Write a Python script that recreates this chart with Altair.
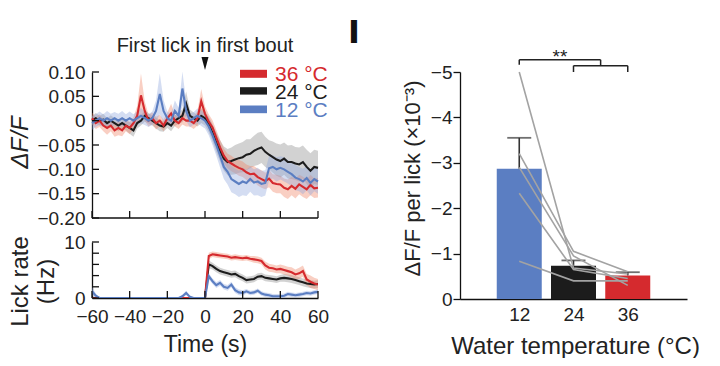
import altair as alt
import pandas as pd

# ---------------- data ----------------
TIME = list(range(-60, 61, 2))

DFF_36 = [0.005, -0.005, 0.0, -0.01, -0.015, -0.01, -0.02, -0.015, -0.02, -0.01,
          -0.015, -0.005, 0.01, 0.052, 0.02, 0.0, 0.005, -0.005, 0.0, -0.01,
          0.005, 0.015, 0.0, -0.005, 0.005, 0.0, 0.0, -0.005, 0.005, 0.04,
          0.014,
          -0.002, -0.014, -0.035, -0.055, -0.072, -0.083, -0.088, -0.093, -0.097, -0.1,
          -0.106, -0.11, -0.109, -0.116, -0.12, -0.124, -0.119, -0.128, -0.13, -0.131,
          -0.138, -0.141, -0.134, -0.14, -0.131, -0.136, -0.141, -0.132, -0.139, -0.138]
DFF_24 = [0.0, 0.005, 0.0, 0.002, -0.005, 0.0, -0.005, -0.01, -0.005, -0.01,
          -0.015, -0.02, -0.005, 0.0, 0.01, 0.005, 0.0, -0.005, -0.01, -0.012,
          -0.005, -0.01, 0.0, 0.005, 0.01, 0.035, 0.01, 0.005, 0.0, 0.01,
          0.005,
          -0.008, -0.025, -0.045, -0.062, -0.078, -0.085, -0.083, -0.08, -0.077, -0.075,
          -0.07, -0.068, -0.062, -0.058, -0.055, -0.064, -0.07, -0.075, -0.08, -0.083,
          -0.078, -0.085, -0.085, -0.088, -0.09, -0.085, -0.095, -0.103, -0.095, -0.097]
DFF_12 = [-0.005, 0.0, 0.005, 0.0, 0.005, 0.0, 0.005, 0.0, 0.005, 0.0,
          0.005, 0.0, 0.005, 0.01, 0.005, 0.0, 0.005, 0.02, 0.055, 0.02,
          0.005, 0.0, 0.02, 0.01, 0.066, 0.02, 0.0, 0.005, 0.01, 0.005,
          0.0,
          -0.012, -0.03, -0.05, -0.072, -0.095, -0.105, -0.12, -0.125, -0.13, -0.125,
          -0.128, -0.12, -0.127, -0.125, -0.13, -0.128, -0.098, -0.095, -0.1, -0.097,
          -0.1, -0.105, -0.11, -0.117, -0.12, -0.125, -0.118, -0.128, -0.12, -0.125]

SEM_36 = [0.012, 0.012, 0.013, 0.012, 0.014, 0.012, 0.013, 0.015, 0.012, 0.012,
          0.013, 0.012, 0.02, 0.045, 0.02, 0.012, 0.012, 0.013, 0.012, 0.012,
          0.012, 0.02, 0.012, 0.012, 0.013, 0.012, 0.012, 0.012, 0.015, 0.025,
          0.015,
          0.015, 0.015, 0.016, 0.016, 0.015, 0.015, 0.016, 0.015, 0.016, 0.016,
          0.016, 0.017, 0.016, 0.017, 0.018, 0.017, 0.018, 0.018, 0.019, 0.018,
          0.019, 0.02, 0.019, 0.02, 0.02, 0.021, 0.02, 0.021, 0.02, 0.02]
SEM_24 = [0.01, 0.011, 0.01, 0.012, 0.01, 0.011, 0.01, 0.012, 0.011, 0.01,
          0.012, 0.013, 0.011, 0.01, 0.012, 0.011, 0.01, 0.011, 0.012, 0.011,
          0.01, 0.012, 0.011, 0.012, 0.013, 0.025, 0.013, 0.012, 0.012, 0.015,
          0.015,
          0.016, 0.018, 0.02, 0.022, 0.025, 0.027, 0.028, 0.03, 0.03, 0.031,
          0.032, 0.03, 0.031, 0.033, 0.032, 0.031, 0.03, 0.032, 0.033, 0.034,
          0.033, 0.034, 0.035, 0.034, 0.035, 0.034, 0.035, 0.036, 0.035, 0.035]
SEM_12 = [0.014, 0.013, 0.014, 0.013, 0.015, 0.014, 0.013, 0.014, 0.015, 0.013,
          0.014, 0.013, 0.014, 0.016, 0.014, 0.013, 0.014, 0.022, 0.042, 0.022,
          0.014, 0.013, 0.022, 0.016, 0.035, 0.02, 0.014, 0.013, 0.015, 0.016,
          0.016,
          0.018, 0.02, 0.022, 0.024, 0.025, 0.026, 0.027, 0.026, 0.027, 0.028,
          0.027, 0.026, 0.027, 0.028, 0.027, 0.026, 0.025, 0.024, 0.025, 0.024,
          0.025, 0.024, 0.025, 0.026, 0.025, 0.026, 0.025, 0.026, 0.025, 0.025]

LICK_36 = [0] * 31 + [7.5, 7.8, 7.7, 7.6, 7.5, 7.4, 7.2, 7.3, 7.2, 7.1,
                      7.2, 7.0, 6.9, 6.8, 6.6, 5.8, 5.4, 5.3, 5.1, 5.2,
                      5.0, 4.8, 4.6, 4.2, 4.4, 4.8, 3.3, 2.9, 2.6, 2.4]
LICK_24 = [0] * 31 + [6.0, 5.7, 5.2, 4.8, 4.6, 4.4, 4.2, 4.3, 3.9, 3.6,
                      3.2, 3.3, 3.4, 3.8, 3.9, 3.6, 3.5, 3.4, 3.3, 3.5,
                      3.6, 3.5, 3.4, 3.2, 3.0, 2.8, 2.6, 2.5, 2.4, 2.5]
LICK_12 = [1.2, 0.4, 0, 0, 0, 0, 0, 0, 0, 0,
           0, 0, 0, 0, 0, 0, 0, 0, 0, 0,
           0, 0, 0, 0, 0.3, 0.9, 0.2, 0, 0, 0,
           0,
           3.9, 3.0, 2.3, 2.7, 2.0, 1.8, 2.4, 1.4, 1.0, 0.9,
           1.2, 0.9, 1.0, 1.3, 0.8, 0.6, 0.5, 0.3, 0.3, 0.3,
           0.4, 0.7, 0.6, 0.5, 0.6, 0.7, 0.9, 0.8, 1.0, 1.1]
LSEM_36 = [0] * 31 + [0.6, 0.5, 0.5, 0.5, 0.5, 0.5, 0.5, 0.5, 0.5, 0.5,
                      0.5, 0.5, 0.6, 0.6, 0.6, 0.7, 0.7, 0.7, 0.7, 0.8,
                      0.8, 0.8, 0.9, 0.9, 1.0, 1.0, 1.0, 1.1, 1.0, 1.0]
LSEM_24 = [0] * 31 + [0.7, 0.6, 0.6, 0.6, 0.6, 0.6, 0.6, 0.6, 0.6, 0.6,
                      0.6, 0.6, 0.6, 0.6, 0.6, 0.6, 0.6, 0.6, 0.6, 0.6,
                      0.7, 0.7, 0.7, 0.7, 0.7, 0.7, 0.7, 0.7, 0.7, 0.7]
LSEM_12 = [0.8, 0.4, 0, 0, 0, 0, 0, 0, 0, 0,
           0, 0, 0, 0, 0, 0, 0, 0, 0, 0,
           0, 0, 0, 0, 0.3, 0.4, 0.2, 0, 0, 0,
           0,
           0.5, 0.5, 0.5, 0.5, 0.5, 0.5, 0.5, 0.5, 0.5, 0.5,
           0.4, 0.4, 0.4, 0.4, 0.4, 0.4, 0.4, 0.4, 0.4, 0.4,
           0.4, 0.4, 0.4, 0.4, 0.4, 0.4, 0.4, 0.4, 0.4, 0.4]

SERIES = ["36 °C", "24 °C", "12 °C"]
TOP_Y_TICKS = [0.1, 0.05, 0, -0.05, -0.1, -0.15, -0.2]
LICK_Y_TICKS = [0, 2, 4, 6, 8, 10]
X_TICKS = [-60, -40, -20, 0, 20, 40, 60]

TEMPS = [12, 24, 36]
BAR_MEAN = [-2.87, -0.73, -0.52]
BAR_ERR = [-3.55, -0.85, -0.59]
MICE = ["m1", "m2", "m3", "m4", "m5"]
MOUSE_12 = [-5.0, -3.2, -2.9, -2.33, -0.83]
MOUSE_24 = [-0.68, -1.05, -0.95, -0.65, -0.4]
MOUSE_36 = [-0.55, -0.6, -0.3, -0.45, -0.4]

BRK_X = [12, 12, 30, 24, 24, 36]
BRK_Y = [-5.16, -5.27, -5.27, -5.14, -5.14, -5.14]
BRK_X2 = [12, 30, 30, 36, 24, 36]
BRK_Y2 = [-5.27, -5.27, -5.14, -5.14, -5.0, -5.0]

# ---------------- styles ----------------
RED = "#d52a2e"
BLACK = "#1c1c1c"
BLUE = "#5b7ec2"
COL = {"36 °C": RED, "24 °C": BLACK, "12 °C": BLUE}
BAND = {"36 °C": "#f08060", "24 °C": "#8a8a8a", "12 °C": "#8ea5dc"}
FONT = "Liberation Sans"

dff_means = {"36 °C": DFF_36, "24 °C": DFF_24, "12 °C": DFF_12}
dff_sems = {"36 °C": SEM_36, "24 °C": SEM_24, "12 °C": SEM_12}
lick_means = {"36 °C": LICK_36, "24 °C": LICK_24, "12 °C": LICK_12}
lick_sems = {"36 °C": LSEM_36, "24 °C": LSEM_24, "12 °C": LSEM_12}


def series_df(means, sems, name):
    return pd.DataFrame({
        "t": TIME,
        "m": means[name],
        "lo": [m - s for m, s in zip(means[name], sems[name])],
        "hi": [m + s for m, s in zip(means[name], sems[name])],
    })


def trace_layers(means, sems, xscale, yscale, xaxis, yaxis, clip):
    layers = []
    order = ["24 °C", "36 °C", "12 °C"]
    for name in order:
        d = series_df(means, sems, name)
        layers.append(alt.Chart(d).mark_area(opacity=0.38, color=BAND[name], clip=clip).encode(
            x=alt.X("t:Q", scale=xscale, axis=xaxis),
            y=alt.Y("lo:Q", scale=yscale, axis=yaxis),
            y2="hi:Q"))
    for name in order:
        d = series_df(means, sems, name)
        layers.append(alt.Chart(d).mark_line(color=COL[name], strokeWidth=2.1, clip=clip).encode(
            x=alt.X("t:Q", scale=xscale, axis=xaxis),
            y=alt.Y("m:Q", scale=yscale, axis=yaxis)))
    return layers


def inward_ticks(xscale, yscale, xaxis, yaxis, yvals, ybottom):
    yt = alt.Chart(pd.DataFrame({"v": yvals})).mark_rule(color="#111", strokeWidth=1.3).encode(
        y=alt.Y("v:Q", scale=yscale, axis=yaxis), x=alt.value(0), x2=alt.value(7))
    xt = alt.Chart(pd.DataFrame({"v": X_TICKS})).mark_rule(color="#111", strokeWidth=1.3).encode(
        x=alt.X("v:Q", scale=xscale, axis=xaxis), y=alt.value(ybottom), y2=alt.value(ybottom - 7))
    return [yt, xt]


# ---------------- left column (one view, two y scales) ----------------
W_L = 226
H_L = 226
TOP_BOTTOM = 146
BOT_TOP = 170

xs = alt.Scale(domain=[-60, 60], nice=False)
ys_top = alt.Scale(domain=[-0.2, 0.1], nice=False, range=[TOP_BOTTOM, 0])
ys_bot = alt.Scale(domain=[0, 10], nice=False, range=[H_L, BOT_TOP])

top_xaxis = None
top_yaxis = alt.Axis(orient="left", values=TOP_Y_TICKS, ticks=False, labelPadding=7,
                     labelExpr="datum.value == 0 ? '0' : format(datum.value, '.2f')",
                     title="ΔF/F", titleFontStyle="italic", titleX=-65, titleY=70,
                     titleBaseline="alphabetic", titleAngle=270, titleAlign="center")

top_layers = trace_layers(dff_means, dff_sems, xs, ys_top, top_xaxis, top_yaxis, False)
top_layers += inward_ticks(xs, ys_top, top_xaxis, top_yaxis, TOP_Y_TICKS, TOP_BOTTOM)
# baseline of the upper panel (its x axis line)
top_layers.append(alt.Chart(pd.DataFrame({"a": [-0.2]})).mark_rule(color="#111", strokeWidth=1.3).encode(
    y=alt.Y("a:Q", scale=ys_top, axis=top_yaxis), x=alt.value(0), x2=alt.value(W_L)))

top_layers.append(alt.Chart(pd.DataFrame({"a": [0]})).mark_text(
    text="First lick in first bout", fontSize=20, align="center", baseline="alphabetic", color="#222"
).encode(x=alt.X("a:Q", scale=xs, axis=top_xaxis), y=alt.value(-20)))
top_layers.append(alt.Chart(pd.DataFrame({"a": [0]})).mark_point(
    shape="M-0.54,-1L0.54,-1L0,1Z", filled=True, size=169, color="#111", opacity=1
).encode(x=alt.X("a:Q", scale=xs, axis=top_xaxis), y=alt.value(-8.5)))

legend_pos = {"36 °C": (-2.2, 5.8, 8.5), "24 °C": (15.2, 22.6, 26.8), "12 °C": (33.5, 41.2, 45.2)}
for name in SERIES:
    y1, y2, yb = legend_pos[name]
    top_layers.append(alt.Chart(pd.DataFrame({"s": [name]})).mark_rect(color=COL[name]).encode(
        x=alt.value(148), x2=alt.value(175), y=alt.value(y1), y2=alt.value(y2)))
    top_layers.append(alt.Chart(pd.DataFrame({"s": [name]})).mark_text(
        fontSize=21, align="left", baseline="alphabetic", color=COL[name]
    ).encode(text="s:N", x=alt.value(183), y=alt.value(yb)))

top = alt.layer(*top_layers)

bot_xaxis = alt.Axis(orient="bottom", values=X_TICKS, ticks=False, labelPadding=9, labelFlush=False,
                     labelOverlap=False, title="Time (s)", titleFontSize=23, titleX=113, titleY=53,
                     titleBaseline="alphabetic", titleAlign="center")
bot_yaxis = alt.Axis(orient="left", values=[0, 10], ticks=False, labelPadding=7, format="d",
                     title=["Lick rate", "(Hz)"], titleLineHeight=26, titleX=-65, titleY=BOT_TOP + 39,
                     titleBaseline="alphabetic", titleAngle=270, titleAlign="center")
bot_layers = trace_layers(lick_means, lick_sems, xs, ys_bot, bot_xaxis, bot_yaxis, True)
bot_layers += inward_ticks(xs, ys_bot, bot_xaxis, bot_yaxis, LICK_Y_TICKS, H_L)
bottom = alt.layer(*bot_layers)

left = alt.layer(top, bottom).resolve_scale(x="independent", y="independent").properties(
    width=W_L, height=H_L)

# ---------------- right: bars ----------------
W_R = 227
H_R = 227
xr = alt.Scale(domain=[0, 48], nice=False)
yr = alt.Scale(domain=[0, -5], nice=False)

bar_df = pd.DataFrame({"temp": TEMPS, "mean": BAR_MEAN, "err": BAR_ERR})
mouse_df = pd.DataFrame({
    "mouse": MICE * 3,
    "temp": [12] * 5 + [24] * 5 + [36] * 5,
    "val": MOUSE_12 + MOUSE_24 + MOUSE_36,
})
brk_df = pd.DataFrame({"x": BRK_X, "y": BRK_Y, "x2": BRK_X2, "y2": BRK_Y2})

r_xaxis = alt.Axis(orient="bottom", values=TEMPS, ticks=False, labelPadding=6, labelFlush=False,
                   title="Water temperature (°C)", titleFontSize=24, titleX=115, titleY=54,
                   titleBaseline="alphabetic", titleAlign="center")
r_yaxis = alt.Axis(orient="left", values=[0, -1, -2, -3, -4, -5], tickSize=7, labelPadding=1, format="d",
                   title="ΔF/F per lick (×10⁻³)", titleFontSize=22, titleX=-41, titleY=106,
                   titleBaseline="alphabetic", titleAngle=270, titleAlign="center")

bars = alt.Chart(bar_df).mark_bar(size=45).encode(
    x=alt.X("temp:Q", scale=xr, axis=r_xaxis),
    y=alt.Y("mean:Q", scale=yr, axis=r_yaxis),
    color=alt.Color("temp:N", scale=alt.Scale(domain=TEMPS, range=[BLUE, BLACK, RED]), legend=None),
)
err_rule = alt.Chart(bar_df).mark_rule(color="#333", strokeWidth=1.6).encode(
    x=alt.X("temp:Q", scale=xr, axis=r_xaxis),
    y=alt.Y("mean:Q", scale=yr, axis=r_yaxis), y2="err:Q")
err_cap = alt.Chart(bar_df).mark_tick(orient="horizontal", size=24, thickness=1.8, color="#333").encode(
    x=alt.X("temp:Q", scale=xr, axis=r_xaxis),
    y=alt.Y("err:Q", scale=yr, axis=r_yaxis))
mice_lines = alt.Chart(mouse_df).mark_line(color="#a3a3a3", strokeWidth=1.6).encode(
    x=alt.X("temp:Q", scale=xr, axis=r_xaxis),
    y=alt.Y("val:Q", scale=yr, axis=r_yaxis),
    detail="mouse:N")
brackets = alt.Chart(brk_df).mark_rule(color="#222", strokeWidth=1.5).encode(
    x=alt.X("x:Q", scale=xr, axis=r_xaxis), x2="x2:Q",
    y=alt.Y("y:Q", scale=yr, axis=r_yaxis), y2="y2:Q")
stars = alt.Chart(pd.DataFrame({"x": [21], "y": [-5.2], "s": ["**"]})).mark_text(
    fontSize=19, align="center", baseline="alphabetic", color="#222").encode(
    x=alt.X("x:Q", scale=xr, axis=r_xaxis), y=alt.Y("y:Q", scale=yr, axis=r_yaxis), text="s:N")
panel_label = alt.Chart(pd.DataFrame({"s": ["I"]})).mark_text(
    font="DejaVu Sans", fontSize=32, fontWeight="bold", align="center", baseline="alphabetic",
    color="#111").encode(text="s:N", x=alt.value(-106), y=alt.value(-29.5))

right = alt.layer(bars, err_rule, err_cap, mice_lines, brackets, stars, panel_label).properties(
    width=W_R, height=H_R)

chart = alt.hconcat(left, right, spacing=142, bounds="flush").properties(
    padding={"left": 0, "top": 8, "right": 0, "bottom": 0}
).configure(font=FONT).configure_view(stroke=None).configure_axis(
    grid=False, domainColor="#111", domainWidth=1.3, tickColor="#111", tickWidth=1.3,
    labelColor="#222", titleColor="#222", labelFontSize=19, titleFontSize=24,
    titleFontWeight="normal", labelFont=FONT, titleFont=FONT)

chart.save("out.html", embed_options={"renderer": "svg", "actions": False})
